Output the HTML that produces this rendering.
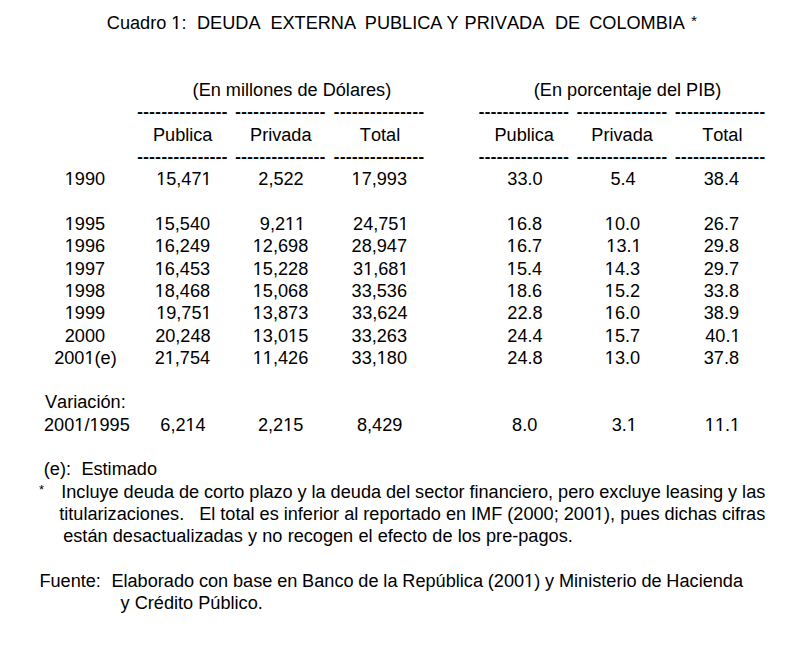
<!DOCTYPE html>
<html><head><meta charset="utf-8"><style>
html,body{margin:0;padding:0;background:#fff;}
body{width:802px;height:655px;position:relative;overflow:hidden;font-family:"Liberation Sans",Arial,sans-serif;font-size:18.15px;line-height:22px;color:#000;font-kerning:none;}
span{position:absolute;white-space:pre;}
b{font-weight:normal;position:relative;}
b::before,b::after{content:"";position:absolute;left:0;width:100%;height:1px;}
b::before{bottom:4.85px;background:var(--g1,linear-gradient(90deg,#fff 4.3px,rgba(255,255,255,0) 4.3px,rgba(255,255,255,0) 6.45px,#fff 6.45px));}
b::after{bottom:3.85px;background:var(--g2,linear-gradient(90deg,#fff 4.3px,rgba(255,255,255,0) 4.3px,rgba(255,255,255,0) 6.45px,#fff 6.45px));}
</style></head><body>
<span style="left:106.80px;top:12.00px">Cuadro <b style="--g1:linear-gradient(90deg,#fff 4px,rgba(255,255,255,0.642) 4px,rgba(255,255,255,0.642) 5px,rgba(255,255,255,0.032) 5px,rgba(255,255,255,0.032) 6px,rgba(255,255,255,0.360) 6px,rgba(255,255,255,0.360) 7px,#fff 7px);--g2:linear-gradient(90deg,#fff 4px,rgba(255,255,255,0.769) 4px,rgba(255,255,255,0.769) 5px,rgba(255,255,255,0.047) 5px,rgba(255,255,255,0.047) 6px,rgba(255,255,255,0.498) 6px,rgba(255,255,255,0.498) 7px,#fff 7px)">1</b>:</span>
<span style="left:197.00px;top:12.00px">DEUDA</span>
<span style="left:270.40px;top:12.00px">EXTERNA</span>
<span style="left:364.80px;top:12.00px">PUBLICA</span>
<span style="left:446.40px;top:12.00px">Y</span>
<span style="left:464.60px;top:12.00px">PRIVADA</span>
<span style="left:555.00px;top:12.00px">DE</span>
<span style="left:589.20px;top:12.00px">COLOMBIA</span>
<span style="left:691.00px;top:9.90px;font-size:15.5px">*</span>
<span style="left:192.60px;top:79.00px">(En millones de Dólares)</span>
<span style="left:533.80px;top:79.00px">(En porcentaje del PIB)</span>
<span style="left:137.00px;top:100.65px;transform:scaleY(1.3);transform-origin:0 12.5px">---------------</span>
<span style="left:137.00px;top:146.16px;transform:scaleY(1.3);transform-origin:0 12.5px">---------------</span>
<span style="left:235.00px;top:100.65px;transform:scaleY(1.3);transform-origin:0 12.5px">---------------</span>
<span style="left:235.00px;top:146.16px;transform:scaleY(1.3);transform-origin:0 12.5px">---------------</span>
<span style="left:333.60px;top:100.65px;transform:scaleY(1.3);transform-origin:0 12.5px">---------------</span>
<span style="left:333.60px;top:146.16px;transform:scaleY(1.3);transform-origin:0 12.5px">---------------</span>
<span style="left:478.40px;top:100.65px;transform:scaleY(1.3);transform-origin:0 12.5px">---------------</span>
<span style="left:478.40px;top:146.16px;transform:scaleY(1.3);transform-origin:0 12.5px">---------------</span>
<span style="left:576.60px;top:100.65px;transform:scaleY(1.3);transform-origin:0 12.5px">---------------</span>
<span style="left:576.60px;top:146.16px;transform:scaleY(1.3);transform-origin:0 12.5px">---------------</span>
<span style="left:674.80px;top:100.65px;transform:scaleY(1.3);transform-origin:0 12.5px">---------------</span>
<span style="left:674.80px;top:146.16px;transform:scaleY(1.3);transform-origin:0 12.5px">---------------</span>
<span style="left:82.70px;top:124.00px;width:200px;text-align:center">Publica</span>
<span style="left:180.80px;top:124.00px;width:200px;text-align:center">Privada</span>
<span style="left:280.00px;top:124.00px;width:200px;text-align:center">Total</span>
<span style="left:424.20px;top:124.00px;width:200px;text-align:center">Publica</span>
<span style="left:522.10px;top:124.00px;width:200px;text-align:center">Privada</span>
<span style="left:622.30px;top:124.00px;width:200px;text-align:center">Total</span>
<span style="left:-15.10px;top:168.00px;width:200px;text-align:center"><b style="--g1:linear-gradient(90deg,#fff 4px,rgba(255,255,255,0.241) 4px,rgba(255,255,255,0.241) 5px,rgba(255,255,255,0.081) 5px,rgba(255,255,255,0.081) 6px,rgba(255,255,255,0.771) 6px,rgba(255,255,255,0.771) 7px,#fff 7px);--g2:linear-gradient(90deg,#fff 4px,rgba(255,255,255,0.357) 4px,rgba(255,255,255,0.357) 5px,rgba(255,255,255,0.114) 5px,rgba(255,255,255,0.114) 6px,rgba(255,255,255,0.859) 6px,rgba(255,255,255,0.859) 7px,#fff 7px)">1</b>990</span>
<span style="left:83.90px;top:168.00px;width:200px;text-align:center"><b style="--g1:linear-gradient(90deg,#fff 4px,rgba(255,255,255,0.642) 4px,rgba(255,255,255,0.642) 5px,rgba(255,255,255,0.032) 5px,rgba(255,255,255,0.032) 6px,rgba(255,255,255,0.360) 6px,rgba(255,255,255,0.360) 7px,#fff 7px);--g2:linear-gradient(90deg,#fff 4px,rgba(255,255,255,0.769) 4px,rgba(255,255,255,0.769) 5px,rgba(255,255,255,0.047) 5px,rgba(255,255,255,0.047) 6px,rgba(255,255,255,0.498) 6px,rgba(255,255,255,0.498) 7px,#fff 7px)">1</b>5,47<b style="--g1:linear-gradient(90deg,#fff 3px,rgba(255,255,255,0.853) 3px,rgba(255,255,255,0.853) 4px,rgba(255,255,255,0.130) 4px,rgba(255,255,255,0.130) 5px,rgba(255,255,255,0.192) 5px,rgba(255,255,255,0.192) 6px,rgba(255,255,255,0.931) 6px,rgba(255,255,255,0.931) 7px,#fff 7px);--g2:linear-gradient(90deg,#fff 3px,rgba(255,255,255,0.914) 3px,rgba(255,255,255,0.914) 4px,rgba(255,255,255,0.184) 4px,rgba(255,255,255,0.184) 5px,rgba(255,255,255,0.275) 5px,rgba(255,255,255,0.275) 6px,rgba(255,255,255,0.961) 6px,rgba(255,255,255,0.961) 7px,#fff 7px)">1</b></span>
<span style="left:181.00px;top:168.00px;width:200px;text-align:center">2,522</span>
<span style="left:279.30px;top:168.00px;width:200px;text-align:center"><b style="--g1:linear-gradient(90deg,#fff 3px,rgba(255,255,255,0.853) 3px,rgba(255,255,255,0.853) 4px,rgba(255,255,255,0.130) 4px,rgba(255,255,255,0.130) 5px,rgba(255,255,255,0.192) 5px,rgba(255,255,255,0.192) 6px,rgba(255,255,255,0.931) 6px,rgba(255,255,255,0.931) 7px,#fff 7px);--g2:linear-gradient(90deg,#fff 3px,rgba(255,255,255,0.914) 3px,rgba(255,255,255,0.914) 4px,rgba(255,255,255,0.184) 4px,rgba(255,255,255,0.184) 5px,rgba(255,255,255,0.275) 5px,rgba(255,255,255,0.275) 6px,rgba(255,255,255,0.961) 6px,rgba(255,255,255,0.961) 7px,#fff 7px)">1</b>7,993</span>
<span style="left:425.00px;top:168.00px;width:200px;text-align:center">33.0</span>
<span style="left:523.00px;top:168.00px;width:200px;text-align:center">5.4</span>
<span style="left:621.40px;top:168.00px;width:200px;text-align:center">38.4</span>
<span style="left:-15.10px;top:213.00px;width:200px;text-align:center"><b style="--g1:linear-gradient(90deg,#fff 4px,rgba(255,255,255,0.241) 4px,rgba(255,255,255,0.241) 5px,rgba(255,255,255,0.081) 5px,rgba(255,255,255,0.081) 6px,rgba(255,255,255,0.771) 6px,rgba(255,255,255,0.771) 7px,#fff 7px);--g2:linear-gradient(90deg,#fff 4px,rgba(255,255,255,0.357) 4px,rgba(255,255,255,0.357) 5px,rgba(255,255,255,0.114) 5px,rgba(255,255,255,0.114) 6px,rgba(255,255,255,0.859) 6px,rgba(255,255,255,0.859) 7px,#fff 7px)">1</b>995</span>
<span style="left:82.40px;top:213.00px;width:200px;text-align:center"><b style="--g1:linear-gradient(90deg,#fff 4px,rgba(255,255,255,0.241) 4px,rgba(255,255,255,0.241) 5px,rgba(255,255,255,0.081) 5px,rgba(255,255,255,0.081) 6px,rgba(255,255,255,0.771) 6px,rgba(255,255,255,0.771) 7px,#fff 7px);--g2:linear-gradient(90deg,#fff 4px,rgba(255,255,255,0.357) 4px,rgba(255,255,255,0.357) 5px,rgba(255,255,255,0.114) 5px,rgba(255,255,255,0.114) 6px,rgba(255,255,255,0.859) 6px,rgba(255,255,255,0.859) 7px,#fff 7px)">1</b>5,540</span>
<span style="left:182.50px;top:213.00px;width:200px;text-align:center">9,2<b style="--g1:linear-gradient(90deg,#fff 4px,rgba(255,255,255,0.449) 4px,rgba(255,255,255,0.449) 5px,rgba(255,255,255,0.040) 5px,rgba(255,255,255,0.040) 6px,rgba(255,255,255,0.571) 6px,rgba(255,255,255,0.571) 7px,#fff 7px);--g2:linear-gradient(90deg,#fff 4px,rgba(255,255,255,0.596) 4px,rgba(255,255,255,0.596) 5px,rgba(255,255,255,0.047) 5px,rgba(255,255,255,0.047) 6px,rgba(255,255,255,0.706) 6px,rgba(255,255,255,0.706) 7px,#fff 7px)">1</b><b style="--g1:linear-gradient(90deg,#fff 4px,rgba(255,255,255,0.449) 4px,rgba(255,255,255,0.449) 5px,rgba(255,255,255,0.040) 5px,rgba(255,255,255,0.040) 6px,rgba(255,255,255,0.571) 6px,rgba(255,255,255,0.571) 7px,#fff 7px);--g2:linear-gradient(90deg,#fff 4px,rgba(255,255,255,0.596) 4px,rgba(255,255,255,0.596) 5px,rgba(255,255,255,0.047) 5px,rgba(255,255,255,0.047) 6px,rgba(255,255,255,0.706) 6px,rgba(255,255,255,0.706) 7px,#fff 7px)">1</b></span>
<span style="left:280.80px;top:213.00px;width:200px;text-align:center">24,75<b style="--g1:linear-gradient(90deg,#fff 4px,rgba(255,255,255,0.853) 4px,rgba(255,255,255,0.853) 5px,rgba(255,255,255,0.130) 5px,rgba(255,255,255,0.130) 6px,rgba(255,255,255,0.192) 6px,rgba(255,255,255,0.192) 7px,rgba(255,255,255,0.931) 7px,rgba(255,255,255,0.931) 8px,#fff 8px);--g2:linear-gradient(90deg,#fff 4px,rgba(255,255,255,0.914) 4px,rgba(255,255,255,0.914) 5px,rgba(255,255,255,0.184) 5px,rgba(255,255,255,0.184) 6px,rgba(255,255,255,0.275) 6px,rgba(255,255,255,0.275) 7px,rgba(255,255,255,0.961) 7px,rgba(255,255,255,0.961) 8px,#fff 8px)">1</b></span>
<span style="left:424.50px;top:213.00px;width:200px;text-align:center"><b style="--g1:linear-gradient(90deg,#fff 4px,rgba(255,255,255,0.241) 4px,rgba(255,255,255,0.241) 5px,rgba(255,255,255,0.081) 5px,rgba(255,255,255,0.081) 6px,rgba(255,255,255,0.771) 6px,rgba(255,255,255,0.771) 7px,#fff 7px);--g2:linear-gradient(90deg,#fff 4px,rgba(255,255,255,0.357) 4px,rgba(255,255,255,0.357) 5px,rgba(255,255,255,0.114) 5px,rgba(255,255,255,0.114) 6px,rgba(255,255,255,0.859) 6px,rgba(255,255,255,0.859) 7px,#fff 7px)">1</b>6.8</span>
<span style="left:522.50px;top:213.00px;width:200px;text-align:center"><b style="--g1:linear-gradient(90deg,#fff 4px,rgba(255,255,255,0.241) 4px,rgba(255,255,255,0.241) 5px,rgba(255,255,255,0.081) 5px,rgba(255,255,255,0.081) 6px,rgba(255,255,255,0.771) 6px,rgba(255,255,255,0.771) 7px,#fff 7px);--g2:linear-gradient(90deg,#fff 4px,rgba(255,255,255,0.357) 4px,rgba(255,255,255,0.357) 5px,rgba(255,255,255,0.114) 5px,rgba(255,255,255,0.114) 6px,rgba(255,255,255,0.859) 6px,rgba(255,255,255,0.859) 7px,#fff 7px)">1</b>0.0</span>
<span style="left:621.40px;top:213.00px;width:200px;text-align:center">26.7</span>
<span style="left:-15.10px;top:235.00px;width:200px;text-align:center"><b style="--g1:linear-gradient(90deg,#fff 4px,rgba(255,255,255,0.241) 4px,rgba(255,255,255,0.241) 5px,rgba(255,255,255,0.081) 5px,rgba(255,255,255,0.081) 6px,rgba(255,255,255,0.771) 6px,rgba(255,255,255,0.771) 7px,#fff 7px);--g2:linear-gradient(90deg,#fff 4px,rgba(255,255,255,0.357) 4px,rgba(255,255,255,0.357) 5px,rgba(255,255,255,0.114) 5px,rgba(255,255,255,0.114) 6px,rgba(255,255,255,0.859) 6px,rgba(255,255,255,0.859) 7px,#fff 7px)">1</b>996</span>
<span style="left:82.40px;top:235.00px;width:200px;text-align:center"><b style="--g1:linear-gradient(90deg,#fff 4px,rgba(255,255,255,0.241) 4px,rgba(255,255,255,0.241) 5px,rgba(255,255,255,0.081) 5px,rgba(255,255,255,0.081) 6px,rgba(255,255,255,0.771) 6px,rgba(255,255,255,0.771) 7px,#fff 7px);--g2:linear-gradient(90deg,#fff 4px,rgba(255,255,255,0.357) 4px,rgba(255,255,255,0.357) 5px,rgba(255,255,255,0.114) 5px,rgba(255,255,255,0.114) 6px,rgba(255,255,255,0.859) 6px,rgba(255,255,255,0.859) 7px,#fff 7px)">1</b>6,249</span>
<span style="left:180.50px;top:235.00px;width:200px;text-align:center"><b style="--g1:linear-gradient(90deg,#fff 4px,rgba(255,255,255,0.241) 4px,rgba(255,255,255,0.241) 5px,rgba(255,255,255,0.081) 5px,rgba(255,255,255,0.081) 6px,rgba(255,255,255,0.771) 6px,rgba(255,255,255,0.771) 7px,#fff 7px);--g2:linear-gradient(90deg,#fff 4px,rgba(255,255,255,0.357) 4px,rgba(255,255,255,0.357) 5px,rgba(255,255,255,0.114) 5px,rgba(255,255,255,0.114) 6px,rgba(255,255,255,0.859) 6px,rgba(255,255,255,0.859) 7px,#fff 7px)">1</b>2,698</span>
<span style="left:279.30px;top:235.00px;width:200px;text-align:center">28,947</span>
<span style="left:424.50px;top:235.00px;width:200px;text-align:center"><b style="--g1:linear-gradient(90deg,#fff 4px,rgba(255,255,255,0.241) 4px,rgba(255,255,255,0.241) 5px,rgba(255,255,255,0.081) 5px,rgba(255,255,255,0.081) 6px,rgba(255,255,255,0.771) 6px,rgba(255,255,255,0.771) 7px,#fff 7px);--g2:linear-gradient(90deg,#fff 4px,rgba(255,255,255,0.357) 4px,rgba(255,255,255,0.357) 5px,rgba(255,255,255,0.114) 5px,rgba(255,255,255,0.114) 6px,rgba(255,255,255,0.859) 6px,rgba(255,255,255,0.859) 7px,#fff 7px)">1</b>6.7</span>
<span style="left:524.00px;top:235.00px;width:200px;text-align:center"><b style="--g1:linear-gradient(90deg,#fff 4px,rgba(255,255,255,0.642) 4px,rgba(255,255,255,0.642) 5px,rgba(255,255,255,0.032) 5px,rgba(255,255,255,0.032) 6px,rgba(255,255,255,0.360) 6px,rgba(255,255,255,0.360) 7px,#fff 7px);--g2:linear-gradient(90deg,#fff 4px,rgba(255,255,255,0.769) 4px,rgba(255,255,255,0.769) 5px,rgba(255,255,255,0.047) 5px,rgba(255,255,255,0.047) 6px,rgba(255,255,255,0.498) 6px,rgba(255,255,255,0.498) 7px,#fff 7px)">1</b>3.<b style="--g1:linear-gradient(90deg,#fff 3px,rgba(255,255,255,0.853) 3px,rgba(255,255,255,0.853) 4px,rgba(255,255,255,0.130) 4px,rgba(255,255,255,0.130) 5px,rgba(255,255,255,0.192) 5px,rgba(255,255,255,0.192) 6px,rgba(255,255,255,0.931) 6px,rgba(255,255,255,0.931) 7px,#fff 7px);--g2:linear-gradient(90deg,#fff 3px,rgba(255,255,255,0.914) 3px,rgba(255,255,255,0.914) 4px,rgba(255,255,255,0.184) 4px,rgba(255,255,255,0.184) 5px,rgba(255,255,255,0.275) 5px,rgba(255,255,255,0.275) 6px,rgba(255,255,255,0.961) 6px,rgba(255,255,255,0.961) 7px,#fff 7px)">1</b></span>
<span style="left:621.40px;top:235.00px;width:200px;text-align:center">29.8</span>
<span style="left:-15.10px;top:258.00px;width:200px;text-align:center"><b style="--g1:linear-gradient(90deg,#fff 4px,rgba(255,255,255,0.241) 4px,rgba(255,255,255,0.241) 5px,rgba(255,255,255,0.081) 5px,rgba(255,255,255,0.081) 6px,rgba(255,255,255,0.771) 6px,rgba(255,255,255,0.771) 7px,#fff 7px);--g2:linear-gradient(90deg,#fff 4px,rgba(255,255,255,0.357) 4px,rgba(255,255,255,0.357) 5px,rgba(255,255,255,0.114) 5px,rgba(255,255,255,0.114) 6px,rgba(255,255,255,0.859) 6px,rgba(255,255,255,0.859) 7px,#fff 7px)">1</b>997</span>
<span style="left:82.40px;top:258.00px;width:200px;text-align:center"><b style="--g1:linear-gradient(90deg,#fff 4px,rgba(255,255,255,0.241) 4px,rgba(255,255,255,0.241) 5px,rgba(255,255,255,0.081) 5px,rgba(255,255,255,0.081) 6px,rgba(255,255,255,0.771) 6px,rgba(255,255,255,0.771) 7px,#fff 7px);--g2:linear-gradient(90deg,#fff 4px,rgba(255,255,255,0.357) 4px,rgba(255,255,255,0.357) 5px,rgba(255,255,255,0.114) 5px,rgba(255,255,255,0.114) 6px,rgba(255,255,255,0.859) 6px,rgba(255,255,255,0.859) 7px,#fff 7px)">1</b>6,453</span>
<span style="left:180.50px;top:258.00px;width:200px;text-align:center"><b style="--g1:linear-gradient(90deg,#fff 4px,rgba(255,255,255,0.241) 4px,rgba(255,255,255,0.241) 5px,rgba(255,255,255,0.081) 5px,rgba(255,255,255,0.081) 6px,rgba(255,255,255,0.771) 6px,rgba(255,255,255,0.771) 7px,#fff 7px);--g2:linear-gradient(90deg,#fff 4px,rgba(255,255,255,0.357) 4px,rgba(255,255,255,0.357) 5px,rgba(255,255,255,0.114) 5px,rgba(255,255,255,0.114) 6px,rgba(255,255,255,0.859) 6px,rgba(255,255,255,0.859) 7px,#fff 7px)">1</b>5,228</span>
<span style="left:280.80px;top:258.00px;width:200px;text-align:center">3<b style="--g1:linear-gradient(90deg,#fff 4px,rgba(255,255,255,0.642) 4px,rgba(255,255,255,0.642) 5px,rgba(255,255,255,0.032) 5px,rgba(255,255,255,0.032) 6px,rgba(255,255,255,0.360) 6px,rgba(255,255,255,0.360) 7px,#fff 7px);--g2:linear-gradient(90deg,#fff 4px,rgba(255,255,255,0.769) 4px,rgba(255,255,255,0.769) 5px,rgba(255,255,255,0.047) 5px,rgba(255,255,255,0.047) 6px,rgba(255,255,255,0.498) 6px,rgba(255,255,255,0.498) 7px,#fff 7px)">1</b>,68<b style="--g1:linear-gradient(90deg,#fff 4px,rgba(255,255,255,0.853) 4px,rgba(255,255,255,0.853) 5px,rgba(255,255,255,0.130) 5px,rgba(255,255,255,0.130) 6px,rgba(255,255,255,0.192) 6px,rgba(255,255,255,0.192) 7px,rgba(255,255,255,0.931) 7px,rgba(255,255,255,0.931) 8px,#fff 8px);--g2:linear-gradient(90deg,#fff 4px,rgba(255,255,255,0.914) 4px,rgba(255,255,255,0.914) 5px,rgba(255,255,255,0.184) 5px,rgba(255,255,255,0.184) 6px,rgba(255,255,255,0.275) 6px,rgba(255,255,255,0.275) 7px,rgba(255,255,255,0.961) 7px,rgba(255,255,255,0.961) 8px,#fff 8px)">1</b></span>
<span style="left:424.50px;top:258.00px;width:200px;text-align:center"><b style="--g1:linear-gradient(90deg,#fff 4px,rgba(255,255,255,0.241) 4px,rgba(255,255,255,0.241) 5px,rgba(255,255,255,0.081) 5px,rgba(255,255,255,0.081) 6px,rgba(255,255,255,0.771) 6px,rgba(255,255,255,0.771) 7px,#fff 7px);--g2:linear-gradient(90deg,#fff 4px,rgba(255,255,255,0.357) 4px,rgba(255,255,255,0.357) 5px,rgba(255,255,255,0.114) 5px,rgba(255,255,255,0.114) 6px,rgba(255,255,255,0.859) 6px,rgba(255,255,255,0.859) 7px,#fff 7px)">1</b>5.4</span>
<span style="left:522.50px;top:258.00px;width:200px;text-align:center"><b style="--g1:linear-gradient(90deg,#fff 4px,rgba(255,255,255,0.241) 4px,rgba(255,255,255,0.241) 5px,rgba(255,255,255,0.081) 5px,rgba(255,255,255,0.081) 6px,rgba(255,255,255,0.771) 6px,rgba(255,255,255,0.771) 7px,#fff 7px);--g2:linear-gradient(90deg,#fff 4px,rgba(255,255,255,0.357) 4px,rgba(255,255,255,0.357) 5px,rgba(255,255,255,0.114) 5px,rgba(255,255,255,0.114) 6px,rgba(255,255,255,0.859) 6px,rgba(255,255,255,0.859) 7px,#fff 7px)">1</b>4.3</span>
<span style="left:621.40px;top:258.00px;width:200px;text-align:center">29.7</span>
<span style="left:-15.10px;top:280.00px;width:200px;text-align:center"><b style="--g1:linear-gradient(90deg,#fff 4px,rgba(255,255,255,0.241) 4px,rgba(255,255,255,0.241) 5px,rgba(255,255,255,0.081) 5px,rgba(255,255,255,0.081) 6px,rgba(255,255,255,0.771) 6px,rgba(255,255,255,0.771) 7px,#fff 7px);--g2:linear-gradient(90deg,#fff 4px,rgba(255,255,255,0.357) 4px,rgba(255,255,255,0.357) 5px,rgba(255,255,255,0.114) 5px,rgba(255,255,255,0.114) 6px,rgba(255,255,255,0.859) 6px,rgba(255,255,255,0.859) 7px,#fff 7px)">1</b>998</span>
<span style="left:82.40px;top:280.00px;width:200px;text-align:center"><b style="--g1:linear-gradient(90deg,#fff 4px,rgba(255,255,255,0.241) 4px,rgba(255,255,255,0.241) 5px,rgba(255,255,255,0.081) 5px,rgba(255,255,255,0.081) 6px,rgba(255,255,255,0.771) 6px,rgba(255,255,255,0.771) 7px,#fff 7px);--g2:linear-gradient(90deg,#fff 4px,rgba(255,255,255,0.357) 4px,rgba(255,255,255,0.357) 5px,rgba(255,255,255,0.114) 5px,rgba(255,255,255,0.114) 6px,rgba(255,255,255,0.859) 6px,rgba(255,255,255,0.859) 7px,#fff 7px)">1</b>8,468</span>
<span style="left:180.50px;top:280.00px;width:200px;text-align:center"><b style="--g1:linear-gradient(90deg,#fff 4px,rgba(255,255,255,0.241) 4px,rgba(255,255,255,0.241) 5px,rgba(255,255,255,0.081) 5px,rgba(255,255,255,0.081) 6px,rgba(255,255,255,0.771) 6px,rgba(255,255,255,0.771) 7px,#fff 7px);--g2:linear-gradient(90deg,#fff 4px,rgba(255,255,255,0.357) 4px,rgba(255,255,255,0.357) 5px,rgba(255,255,255,0.114) 5px,rgba(255,255,255,0.114) 6px,rgba(255,255,255,0.859) 6px,rgba(255,255,255,0.859) 7px,#fff 7px)">1</b>5,068</span>
<span style="left:279.30px;top:280.00px;width:200px;text-align:center">33,536</span>
<span style="left:424.50px;top:280.00px;width:200px;text-align:center"><b style="--g1:linear-gradient(90deg,#fff 4px,rgba(255,255,255,0.241) 4px,rgba(255,255,255,0.241) 5px,rgba(255,255,255,0.081) 5px,rgba(255,255,255,0.081) 6px,rgba(255,255,255,0.771) 6px,rgba(255,255,255,0.771) 7px,#fff 7px);--g2:linear-gradient(90deg,#fff 4px,rgba(255,255,255,0.357) 4px,rgba(255,255,255,0.357) 5px,rgba(255,255,255,0.114) 5px,rgba(255,255,255,0.114) 6px,rgba(255,255,255,0.859) 6px,rgba(255,255,255,0.859) 7px,#fff 7px)">1</b>8.6</span>
<span style="left:522.50px;top:280.00px;width:200px;text-align:center"><b style="--g1:linear-gradient(90deg,#fff 4px,rgba(255,255,255,0.241) 4px,rgba(255,255,255,0.241) 5px,rgba(255,255,255,0.081) 5px,rgba(255,255,255,0.081) 6px,rgba(255,255,255,0.771) 6px,rgba(255,255,255,0.771) 7px,#fff 7px);--g2:linear-gradient(90deg,#fff 4px,rgba(255,255,255,0.357) 4px,rgba(255,255,255,0.357) 5px,rgba(255,255,255,0.114) 5px,rgba(255,255,255,0.114) 6px,rgba(255,255,255,0.859) 6px,rgba(255,255,255,0.859) 7px,#fff 7px)">1</b>5.2</span>
<span style="left:621.40px;top:280.00px;width:200px;text-align:center">33.8</span>
<span style="left:-15.10px;top:302.00px;width:200px;text-align:center"><b style="--g1:linear-gradient(90deg,#fff 4px,rgba(255,255,255,0.241) 4px,rgba(255,255,255,0.241) 5px,rgba(255,255,255,0.081) 5px,rgba(255,255,255,0.081) 6px,rgba(255,255,255,0.771) 6px,rgba(255,255,255,0.771) 7px,#fff 7px);--g2:linear-gradient(90deg,#fff 4px,rgba(255,255,255,0.357) 4px,rgba(255,255,255,0.357) 5px,rgba(255,255,255,0.114) 5px,rgba(255,255,255,0.114) 6px,rgba(255,255,255,0.859) 6px,rgba(255,255,255,0.859) 7px,#fff 7px)">1</b>999</span>
<span style="left:83.90px;top:302.00px;width:200px;text-align:center"><b style="--g1:linear-gradient(90deg,#fff 4px,rgba(255,255,255,0.642) 4px,rgba(255,255,255,0.642) 5px,rgba(255,255,255,0.032) 5px,rgba(255,255,255,0.032) 6px,rgba(255,255,255,0.360) 6px,rgba(255,255,255,0.360) 7px,#fff 7px);--g2:linear-gradient(90deg,#fff 4px,rgba(255,255,255,0.769) 4px,rgba(255,255,255,0.769) 5px,rgba(255,255,255,0.047) 5px,rgba(255,255,255,0.047) 6px,rgba(255,255,255,0.498) 6px,rgba(255,255,255,0.498) 7px,#fff 7px)">1</b>9,75<b style="--g1:linear-gradient(90deg,#fff 3px,rgba(255,255,255,0.853) 3px,rgba(255,255,255,0.853) 4px,rgba(255,255,255,0.130) 4px,rgba(255,255,255,0.130) 5px,rgba(255,255,255,0.192) 5px,rgba(255,255,255,0.192) 6px,rgba(255,255,255,0.931) 6px,rgba(255,255,255,0.931) 7px,#fff 7px);--g2:linear-gradient(90deg,#fff 3px,rgba(255,255,255,0.914) 3px,rgba(255,255,255,0.914) 4px,rgba(255,255,255,0.184) 4px,rgba(255,255,255,0.184) 5px,rgba(255,255,255,0.275) 5px,rgba(255,255,255,0.275) 6px,rgba(255,255,255,0.961) 6px,rgba(255,255,255,0.961) 7px,#fff 7px)">1</b></span>
<span style="left:180.50px;top:302.00px;width:200px;text-align:center"><b style="--g1:linear-gradient(90deg,#fff 4px,rgba(255,255,255,0.241) 4px,rgba(255,255,255,0.241) 5px,rgba(255,255,255,0.081) 5px,rgba(255,255,255,0.081) 6px,rgba(255,255,255,0.771) 6px,rgba(255,255,255,0.771) 7px,#fff 7px);--g2:linear-gradient(90deg,#fff 4px,rgba(255,255,255,0.357) 4px,rgba(255,255,255,0.357) 5px,rgba(255,255,255,0.114) 5px,rgba(255,255,255,0.114) 6px,rgba(255,255,255,0.859) 6px,rgba(255,255,255,0.859) 7px,#fff 7px)">1</b>3,873</span>
<span style="left:279.80px;top:302.00px;width:200px;text-align:center">33,624</span>
<span style="left:425.00px;top:302.00px;width:200px;text-align:center">22.8</span>
<span style="left:522.50px;top:302.00px;width:200px;text-align:center"><b style="--g1:linear-gradient(90deg,#fff 4px,rgba(255,255,255,0.241) 4px,rgba(255,255,255,0.241) 5px,rgba(255,255,255,0.081) 5px,rgba(255,255,255,0.081) 6px,rgba(255,255,255,0.771) 6px,rgba(255,255,255,0.771) 7px,#fff 7px);--g2:linear-gradient(90deg,#fff 4px,rgba(255,255,255,0.357) 4px,rgba(255,255,255,0.357) 5px,rgba(255,255,255,0.114) 5px,rgba(255,255,255,0.114) 6px,rgba(255,255,255,0.859) 6px,rgba(255,255,255,0.859) 7px,#fff 7px)">1</b>6.0</span>
<span style="left:621.40px;top:302.00px;width:200px;text-align:center">38.9</span>
<span style="left:-15.10px;top:325.00px;width:200px;text-align:center">2000</span>
<span style="left:82.90px;top:325.00px;width:200px;text-align:center">20,248</span>
<span style="left:180.50px;top:325.00px;width:200px;text-align:center"><b style="--g1:linear-gradient(90deg,#fff 4px,rgba(255,255,255,0.241) 4px,rgba(255,255,255,0.241) 5px,rgba(255,255,255,0.081) 5px,rgba(255,255,255,0.081) 6px,rgba(255,255,255,0.771) 6px,rgba(255,255,255,0.771) 7px,#fff 7px);--g2:linear-gradient(90deg,#fff 4px,rgba(255,255,255,0.357) 4px,rgba(255,255,255,0.357) 5px,rgba(255,255,255,0.114) 5px,rgba(255,255,255,0.114) 6px,rgba(255,255,255,0.859) 6px,rgba(255,255,255,0.859) 7px,#fff 7px)">1</b>3,0<b style="--g1:linear-gradient(90deg,#fff 4px,rgba(255,255,255,0.449) 4px,rgba(255,255,255,0.449) 5px,rgba(255,255,255,0.040) 5px,rgba(255,255,255,0.040) 6px,rgba(255,255,255,0.571) 6px,rgba(255,255,255,0.571) 7px,#fff 7px);--g2:linear-gradient(90deg,#fff 4px,rgba(255,255,255,0.596) 4px,rgba(255,255,255,0.596) 5px,rgba(255,255,255,0.047) 5px,rgba(255,255,255,0.047) 6px,rgba(255,255,255,0.706) 6px,rgba(255,255,255,0.706) 7px,#fff 7px)">1</b>5</span>
<span style="left:279.30px;top:325.00px;width:200px;text-align:center">33,263</span>
<span style="left:425.00px;top:325.00px;width:200px;text-align:center">24.4</span>
<span style="left:522.50px;top:325.00px;width:200px;text-align:center"><b style="--g1:linear-gradient(90deg,#fff 4px,rgba(255,255,255,0.241) 4px,rgba(255,255,255,0.241) 5px,rgba(255,255,255,0.081) 5px,rgba(255,255,255,0.081) 6px,rgba(255,255,255,0.771) 6px,rgba(255,255,255,0.771) 7px,#fff 7px);--g2:linear-gradient(90deg,#fff 4px,rgba(255,255,255,0.357) 4px,rgba(255,255,255,0.357) 5px,rgba(255,255,255,0.114) 5px,rgba(255,255,255,0.114) 6px,rgba(255,255,255,0.859) 6px,rgba(255,255,255,0.859) 7px,#fff 7px)">1</b>5.7</span>
<span style="left:622.90px;top:325.00px;width:200px;text-align:center">40.<b style="--g1:linear-gradient(90deg,#fff 4px,rgba(255,255,255,0.853) 4px,rgba(255,255,255,0.853) 5px,rgba(255,255,255,0.130) 5px,rgba(255,255,255,0.130) 6px,rgba(255,255,255,0.192) 6px,rgba(255,255,255,0.192) 7px,rgba(255,255,255,0.931) 7px,rgba(255,255,255,0.931) 8px,#fff 8px);--g2:linear-gradient(90deg,#fff 4px,rgba(255,255,255,0.914) 4px,rgba(255,255,255,0.914) 5px,rgba(255,255,255,0.184) 5px,rgba(255,255,255,0.184) 6px,rgba(255,255,255,0.275) 6px,rgba(255,255,255,0.275) 7px,rgba(255,255,255,0.961) 7px,rgba(255,255,255,0.961) 8px,#fff 8px)">1</b></span>
<span style="left:-14.60px;top:347.00px;width:200px;text-align:center">200<b style="--g1:linear-gradient(90deg,#fff 4px,rgba(255,255,255,0.853) 4px,rgba(255,255,255,0.853) 5px,rgba(255,255,255,0.130) 5px,rgba(255,255,255,0.130) 6px,rgba(255,255,255,0.192) 6px,rgba(255,255,255,0.192) 7px,rgba(255,255,255,0.931) 7px,rgba(255,255,255,0.931) 8px,#fff 8px);--g2:linear-gradient(90deg,#fff 4px,rgba(255,255,255,0.914) 4px,rgba(255,255,255,0.914) 5px,rgba(255,255,255,0.184) 5px,rgba(255,255,255,0.184) 6px,rgba(255,255,255,0.275) 6px,rgba(255,255,255,0.275) 7px,rgba(255,255,255,0.961) 7px,rgba(255,255,255,0.961) 8px,#fff 8px)">1</b>(e)</span>
<span style="left:82.40px;top:347.00px;width:200px;text-align:center">2<b style="--g1:linear-gradient(90deg,#fff 4px,rgba(255,255,255,0.241) 4px,rgba(255,255,255,0.241) 5px,rgba(255,255,255,0.081) 5px,rgba(255,255,255,0.081) 6px,rgba(255,255,255,0.771) 6px,rgba(255,255,255,0.771) 7px,#fff 7px);--g2:linear-gradient(90deg,#fff 4px,rgba(255,255,255,0.357) 4px,rgba(255,255,255,0.357) 5px,rgba(255,255,255,0.114) 5px,rgba(255,255,255,0.114) 6px,rgba(255,255,255,0.859) 6px,rgba(255,255,255,0.859) 7px,#fff 7px)">1</b>,754</span>
<span style="left:180.50px;top:347.00px;width:200px;text-align:center"><b style="--g1:linear-gradient(90deg,#fff 4px,rgba(255,255,255,0.241) 4px,rgba(255,255,255,0.241) 5px,rgba(255,255,255,0.081) 5px,rgba(255,255,255,0.081) 6px,rgba(255,255,255,0.771) 6px,rgba(255,255,255,0.771) 7px,#fff 7px);--g2:linear-gradient(90deg,#fff 4px,rgba(255,255,255,0.357) 4px,rgba(255,255,255,0.357) 5px,rgba(255,255,255,0.114) 5px,rgba(255,255,255,0.114) 6px,rgba(255,255,255,0.859) 6px,rgba(255,255,255,0.859) 7px,#fff 7px)">1</b><b style="--g1:linear-gradient(90deg,#fff 4px,rgba(255,255,255,0.241) 4px,rgba(255,255,255,0.241) 5px,rgba(255,255,255,0.081) 5px,rgba(255,255,255,0.081) 6px,rgba(255,255,255,0.771) 6px,rgba(255,255,255,0.771) 7px,#fff 7px);--g2:linear-gradient(90deg,#fff 4px,rgba(255,255,255,0.357) 4px,rgba(255,255,255,0.357) 5px,rgba(255,255,255,0.114) 5px,rgba(255,255,255,0.114) 6px,rgba(255,255,255,0.859) 6px,rgba(255,255,255,0.859) 7px,#fff 7px)">1</b>,426</span>
<span style="left:279.30px;top:347.00px;width:200px;text-align:center">33,<b style="--g1:linear-gradient(90deg,#fff 4px,rgba(255,255,255,0.241) 4px,rgba(255,255,255,0.241) 5px,rgba(255,255,255,0.081) 5px,rgba(255,255,255,0.081) 6px,rgba(255,255,255,0.771) 6px,rgba(255,255,255,0.771) 7px,#fff 7px);--g2:linear-gradient(90deg,#fff 4px,rgba(255,255,255,0.357) 4px,rgba(255,255,255,0.357) 5px,rgba(255,255,255,0.114) 5px,rgba(255,255,255,0.114) 6px,rgba(255,255,255,0.859) 6px,rgba(255,255,255,0.859) 7px,#fff 7px)">1</b>80</span>
<span style="left:425.00px;top:347.00px;width:200px;text-align:center">24.8</span>
<span style="left:522.50px;top:347.00px;width:200px;text-align:center"><b style="--g1:linear-gradient(90deg,#fff 4px,rgba(255,255,255,0.241) 4px,rgba(255,255,255,0.241) 5px,rgba(255,255,255,0.081) 5px,rgba(255,255,255,0.081) 6px,rgba(255,255,255,0.771) 6px,rgba(255,255,255,0.771) 7px,#fff 7px);--g2:linear-gradient(90deg,#fff 4px,rgba(255,255,255,0.357) 4px,rgba(255,255,255,0.357) 5px,rgba(255,255,255,0.114) 5px,rgba(255,255,255,0.114) 6px,rgba(255,255,255,0.859) 6px,rgba(255,255,255,0.859) 7px,#fff 7px)">1</b>3.0</span>
<span style="left:621.40px;top:347.00px;width:200px;text-align:center">37.8</span>
<span style="left:45.00px;top:391.00px">Variación:</span>
<span style="left:44.00px;top:414.00px">200<b style="--g1:linear-gradient(90deg,#fff 4px,rgba(255,255,255,0.642) 4px,rgba(255,255,255,0.642) 5px,rgba(255,255,255,0.032) 5px,rgba(255,255,255,0.032) 6px,rgba(255,255,255,0.360) 6px,rgba(255,255,255,0.360) 7px,#fff 7px);--g2:linear-gradient(90deg,#fff 4px,rgba(255,255,255,0.769) 4px,rgba(255,255,255,0.769) 5px,rgba(255,255,255,0.047) 5px,rgba(255,255,255,0.047) 6px,rgba(255,255,255,0.498) 6px,rgba(255,255,255,0.498) 7px,#fff 7px)">1</b>/<b style="--g1:linear-gradient(90deg,#fff 4px,rgba(255,255,255,0.853) 4px,rgba(255,255,255,0.853) 5px,rgba(255,255,255,0.130) 5px,rgba(255,255,255,0.130) 6px,rgba(255,255,255,0.192) 6px,rgba(255,255,255,0.192) 7px,rgba(255,255,255,0.931) 7px,rgba(255,255,255,0.931) 8px,#fff 8px);--g2:linear-gradient(90deg,#fff 4px,rgba(255,255,255,0.914) 4px,rgba(255,255,255,0.914) 5px,rgba(255,255,255,0.184) 5px,rgba(255,255,255,0.184) 6px,rgba(255,255,255,0.275) 6px,rgba(255,255,255,0.275) 7px,rgba(255,255,255,0.961) 7px,rgba(255,255,255,0.961) 8px,#fff 8px)">1</b>995</span>
<span style="left:83.00px;top:414.00px;width:200px;text-align:center">6,2<b style="--g1:linear-gradient(90deg,#fff 3px,rgba(255,255,255,0.853) 3px,rgba(255,255,255,0.853) 4px,rgba(255,255,255,0.130) 4px,rgba(255,255,255,0.130) 5px,rgba(255,255,255,0.192) 5px,rgba(255,255,255,0.192) 6px,rgba(255,255,255,0.931) 6px,rgba(255,255,255,0.931) 7px,#fff 7px);--g2:linear-gradient(90deg,#fff 3px,rgba(255,255,255,0.914) 3px,rgba(255,255,255,0.914) 4px,rgba(255,255,255,0.184) 4px,rgba(255,255,255,0.184) 5px,rgba(255,255,255,0.275) 5px,rgba(255,255,255,0.275) 6px,rgba(255,255,255,0.961) 6px,rgba(255,255,255,0.961) 7px,#fff 7px)">1</b>4</span>
<span style="left:180.70px;top:414.00px;width:200px;text-align:center">2,2<b style="--g1:linear-gradient(90deg,#fff 4px,rgba(255,255,255,0.642) 4px,rgba(255,255,255,0.642) 5px,rgba(255,255,255,0.032) 5px,rgba(255,255,255,0.032) 6px,rgba(255,255,255,0.360) 6px,rgba(255,255,255,0.360) 7px,#fff 7px);--g2:linear-gradient(90deg,#fff 4px,rgba(255,255,255,0.769) 4px,rgba(255,255,255,0.769) 5px,rgba(255,255,255,0.047) 5px,rgba(255,255,255,0.047) 6px,rgba(255,255,255,0.498) 6px,rgba(255,255,255,0.498) 7px,#fff 7px)">1</b>5</span>
<span style="left:279.70px;top:414.00px;width:200px;text-align:center">8,429</span>
<span style="left:424.70px;top:414.00px;width:200px;text-align:center">8.0</span>
<span style="left:524.30px;top:414.00px;width:200px;text-align:center">3.<b style="--g1:linear-gradient(90deg,#fff 4px,rgba(255,255,255,0.241) 4px,rgba(255,255,255,0.241) 5px,rgba(255,255,255,0.081) 5px,rgba(255,255,255,0.081) 6px,rgba(255,255,255,0.771) 6px,rgba(255,255,255,0.771) 7px,#fff 7px);--g2:linear-gradient(90deg,#fff 4px,rgba(255,255,255,0.357) 4px,rgba(255,255,255,0.357) 5px,rgba(255,255,255,0.114) 5px,rgba(255,255,255,0.114) 6px,rgba(255,255,255,0.859) 6px,rgba(255,255,255,0.859) 7px,#fff 7px)">1</b></span>
<span style="left:622.50px;top:414.00px;width:200px;text-align:center"><b style="--g1:linear-gradient(90deg,#fff 4px,rgba(255,255,255,0.241) 4px,rgba(255,255,255,0.241) 5px,rgba(255,255,255,0.081) 5px,rgba(255,255,255,0.081) 6px,rgba(255,255,255,0.771) 6px,rgba(255,255,255,0.771) 7px,#fff 7px);--g2:linear-gradient(90deg,#fff 4px,rgba(255,255,255,0.357) 4px,rgba(255,255,255,0.357) 5px,rgba(255,255,255,0.114) 5px,rgba(255,255,255,0.114) 6px,rgba(255,255,255,0.859) 6px,rgba(255,255,255,0.859) 7px,#fff 7px)">1</b><b style="--g1:linear-gradient(90deg,#fff 4px,rgba(255,255,255,0.449) 4px,rgba(255,255,255,0.449) 5px,rgba(255,255,255,0.040) 5px,rgba(255,255,255,0.040) 6px,rgba(255,255,255,0.571) 6px,rgba(255,255,255,0.571) 7px,#fff 7px);--g2:linear-gradient(90deg,#fff 4px,rgba(255,255,255,0.596) 4px,rgba(255,255,255,0.596) 5px,rgba(255,255,255,0.047) 5px,rgba(255,255,255,0.047) 6px,rgba(255,255,255,0.706) 6px,rgba(255,255,255,0.706) 7px,#fff 7px)">1</b>.<b style="--g1:linear-gradient(90deg,#fff 4px,rgba(255,255,255,0.449) 4px,rgba(255,255,255,0.449) 5px,rgba(255,255,255,0.040) 5px,rgba(255,255,255,0.040) 6px,rgba(255,255,255,0.571) 6px,rgba(255,255,255,0.571) 7px,#fff 7px);--g2:linear-gradient(90deg,#fff 4px,rgba(255,255,255,0.596) 4px,rgba(255,255,255,0.596) 5px,rgba(255,255,255,0.047) 5px,rgba(255,255,255,0.047) 6px,rgba(255,255,255,0.706) 6px,rgba(255,255,255,0.706) 7px,#fff 7px)">1</b></span>
<span style="left:43.80px;top:458.00px">(e):</span>
<span style="left:81.40px;top:458.00px">Estimado</span>
<span style="left:39.00px;top:479.30px;font-size:13px">*</span>
<span style="left:61.20px;top:481.00px;word-spacing:-0.120px">Incluye deuda de corto plazo y la deuda del sector financiero, pero excluye leasing y las</span>
<span style="left:59.20px;top:503.00px;word-spacing:-0.053px">titularizaciones.   El total es inferior al reportado en IMF (2000; 200<b style="--g1:linear-gradient(90deg,#fff 4px,rgba(255,255,255,0.449) 4px,rgba(255,255,255,0.449) 5px,rgba(255,255,255,0.040) 5px,rgba(255,255,255,0.040) 6px,rgba(255,255,255,0.571) 6px,rgba(255,255,255,0.571) 7px,#fff 7px);--g2:linear-gradient(90deg,#fff 4px,rgba(255,255,255,0.596) 4px,rgba(255,255,255,0.596) 5px,rgba(255,255,255,0.047) 5px,rgba(255,255,255,0.047) 6px,rgba(255,255,255,0.706) 6px,rgba(255,255,255,0.706) 7px,#fff 7px)">1</b>), pues dichas cifras</span>
<span style="left:63.20px;top:525.00px;word-spacing:0.144px">están desactualizadas y no recogen el efecto de los pre-pagos.</span>
<span style="left:39.40px;top:570.00px">Fuente:</span>
<span style="left:111.40px;top:570.00px;word-spacing:-0.225px">Elaborado con base en Banco de la República (200<b style="--g1:linear-gradient(90deg,#fff 4px,rgba(255,255,255,0.449) 4px,rgba(255,255,255,0.449) 5px,rgba(255,255,255,0.040) 5px,rgba(255,255,255,0.040) 6px,rgba(255,255,255,0.571) 6px,rgba(255,255,255,0.571) 7px,#fff 7px);--g2:linear-gradient(90deg,#fff 4px,rgba(255,255,255,0.596) 4px,rgba(255,255,255,0.596) 5px,rgba(255,255,255,0.047) 5px,rgba(255,255,255,0.047) 6px,rgba(255,255,255,0.706) 6px,rgba(255,255,255,0.706) 7px,#fff 7px)">1</b>) y Ministerio de Hacienda</span>
<span style="left:120.60px;top:592.00px">y Crédito Público.</span>
</body></html>
